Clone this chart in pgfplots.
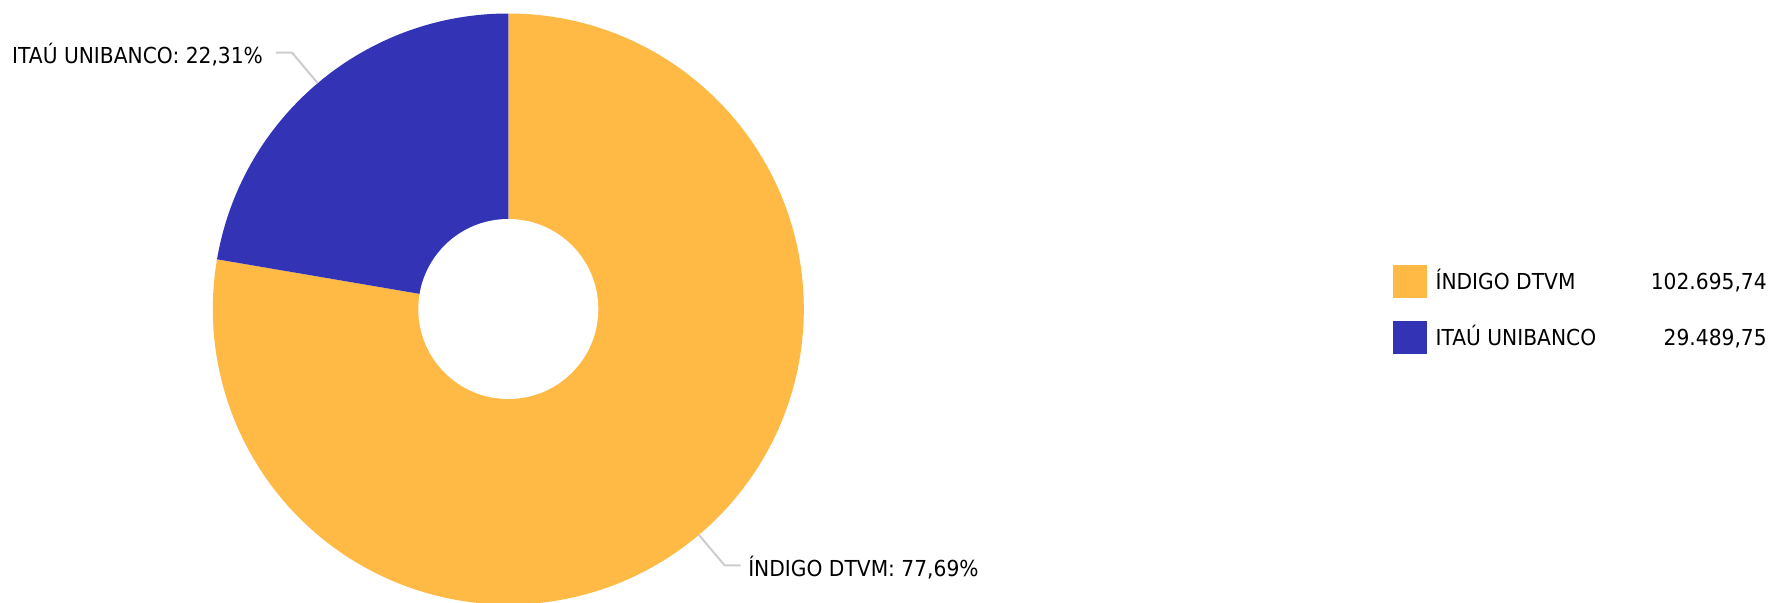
\documentclass[border=0pt]{standalone}
\usepackage{pgfplots}
\usepackage{pgfplotstable}
\usepackage{fontspec}
\setmainfont{DejaVu Sans}[FakeStretch=0.92]
\pgfplotsset{compat=1.18}

\definecolor{indigocol}{HTML}{FFBA45}
\definecolor{itaucol}{HTML}{3333B5}
\definecolor{leadcol}{HTML}{CCCCCC}

\pgfkeys{/pgf/number format/.cd, fixed, precision=2, fixed zerofill,
  dec sep={,}, 1000 sep={.}, assume math mode=true}

% shares by institution
\pgfplotstableread[col sep=comma]{
name,value
ÍNDIGO DTVM,102695.74
ITAÚ UNIBANCO,29489.75
}\shares

\pgfplotstablegetelem{0}{name}\of\shares\let\nA\pgfplotsretval
\pgfplotstablegetelem{0}{value}\of\shares\let\vA\pgfplotsretval
\pgfplotstablegetelem{1}{name}\of\shares\let\nB\pgfplotsretval
\pgfplotstablegetelem{1}{value}\of\shares\let\vB\pgfplotsretval
\edef\tot{\fpeval{\vA+\vB}}
% slices run clockwise from 12 o'clock
\edef\sA{90}
\edef\eA{\fpeval{90-360*\vA/\tot}}
\edef\eB{\fpeval{\eA-360*\vB/\tot}}
\edef\mA{\fpeval{(\sA+\eA)/2}}
\edef\mB{\fpeval{(\eA+\eB)/2}}
\edef\pA{\fpeval{round(100*\vA/\tot,2)}}
\edef\pB{\fpeval{round(100*\vB/\tot,2)}}

\def\cx{508.3}\def\cy{293}
\def\rout{147.75pt}\def\rin{45pt}

\newcommand\slice[3]{% start, end, colour
  \fill[#3] (axis cs:\cx,\cy) -- ++(#1:\rout)
    arc[start angle=#1, end angle=#2, radius=\rout] -- cycle;}
% axis commands are run later, so expand the side-dependent bits now
\newcommand\leader[3]{% mid angle, name, percent
  \ifdim\fpeval{cosd(#1)}pt>0pt
    \def\side{1}\def\anc{base west}\def\gap{3.3pt}%
  \else
    \def\side{-1}\def\anc{base east}\def\gap{6pt}%
  \fi
  \edef\temp{\noexpand\draw[leadcol, line width=1pt] (axis cs:\cx,\cy)
    ++(#1:\rout) -- ++(#1:20pt) -- ++(\side*8pt,0pt)
    node[anchor=\anc, inner sep=0pt, xshift=\side*\gap, yshift=-5.3pt, text=black]
    {\unexpanded{#2}: \noexpand\pgfmathprintnumber{#3}\noexpand\%};}%
  \temp}
\newcommand\entry[3]{% colour, name, value
  {\color{#1}\rule[-4.35pt]{16.7pt}{16.7pt}}\hspace{4.4pt}%
  \makebox[165.6pt]{#2\hfill\pgfmathprintnumber{#3}}}

\begin{document}
\fontsize{11pt}{13pt}\selectfont
\begin{tikzpicture}
\begin{axis}[
  width=886pt, height=301pt, scale only axis,
  xmin=0, xmax=1772, ymin=0, ymax=602,
  hide axis, clip=false,
  legend style={draw=none, fill=none, at={(0.7863,0.5598)}, anchor=north west,
    inner sep=0pt, outer sep=0pt, row sep=13.8pt, column sep=0pt,
    nodes={inner sep=0pt}},
  legend cell align=left,
]
\slice{\sA}{\eA}{indigocol}
\slice{\eA}{\eB}{itaucol}
\fill[white] (axis cs:\cx,\cy) circle[radius=\rin];
\leader{\mA}{\nA}{\pA}
\leader{\mB}{\nB}{\pB}
\addlegendimage{empty legend}
\addlegendentry{\entry{indigocol}{\nA}{\vA}}
\addlegendimage{empty legend}
\addlegendentry{\entry{itaucol}{\nB}{\vB}}
\end{axis}
\pgfresetboundingbox
\useasboundingbox (current axis.south west) rectangle (current axis.north east);
\end{tikzpicture}
\end{document}
